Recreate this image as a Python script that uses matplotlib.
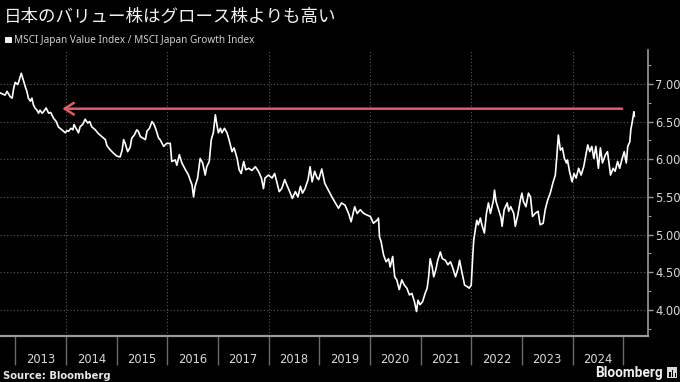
import matplotlib
matplotlib.use("Agg")
import matplotlib.pyplot as plt
from matplotlib.patches import Rectangle
from matplotlib.ticker import FixedLocator, FormatStrFormatter

# ---- data (decimal year, MSCI Japan Value / Growth ratio) ----
years = [
    2012.70, 2012.80, 2012.84, 2012.90, 2012.94, 2012.97, 2013.00, 2013.05, 2013.08, 2013.12,
    2013.16, 2013.20, 2013.23, 2013.26, 2013.30, 2013.33, 2013.36, 2013.39, 2013.43, 2013.46,
    2013.49, 2013.53, 2013.56, 2013.61, 2013.66, 2013.70, 2013.76, 2013.81, 2013.85, 2013.92,
    2013.99, 2014.02, 2014.05, 2014.10, 2014.14, 2014.16, 2014.20, 2014.25, 2014.28, 2014.33,
    2014.38, 2014.43, 2014.47, 2014.51, 2014.58, 2014.64, 2014.71, 2014.78, 2014.81, 2014.88,
    2014.94, 2015.01, 2015.07, 2015.11, 2015.14, 2015.17, 2015.22, 2015.27, 2015.30, 2015.35,
    2015.40, 2015.43, 2015.47, 2015.52, 2015.57, 2015.60, 2015.65, 2015.70, 2015.74, 2015.78,
    2015.83, 2015.86, 2015.93, 2015.99, 2016.06, 2016.09, 2016.16, 2016.19, 2016.24, 2016.29,
    2016.36, 2016.42, 2016.45, 2016.49, 2016.52, 2016.55, 2016.60, 2016.65, 2016.70, 2016.75,
    2016.78, 2016.83, 2016.87, 2016.91, 2016.95, 2016.98, 2017.01, 2017.05, 2017.08, 2017.13,
    2017.18, 2017.22, 2017.28, 2017.32, 2017.38, 2017.42, 2017.46, 2017.51, 2017.55, 2017.61,
    2017.67, 2017.74, 2017.80, 2017.86, 2017.90, 2017.93, 2018.00, 2018.07, 2018.12, 2018.17,
    2018.21, 2018.26, 2018.32, 2018.36, 2018.43, 2018.47, 2018.53, 2018.58, 2018.63, 2018.67,
    2018.72, 2018.78, 2018.82, 2018.86, 2018.91, 2018.96, 2018.99, 2019.05, 2019.11, 2019.18,
    2019.25, 2019.32, 2019.38, 2019.44, 2019.51, 2019.58, 2019.63, 2019.70, 2019.75, 2019.81,
    2019.88, 2019.94, 2020.01, 2020.07, 2020.14, 2020.17, 2020.19, 2020.22, 2020.27, 2020.32,
    2020.37, 2020.40, 2020.45, 2020.49, 2020.53, 2020.58, 2020.63, 2020.68, 2020.73, 2020.78,
    2020.83, 2020.88, 2020.92, 2020.95, 2020.99, 2021.04, 2021.09, 2021.13, 2021.16, 2021.19,
    2021.23, 2021.26, 2021.30, 2021.34, 2021.39, 2021.43, 2021.49, 2021.54, 2021.59, 2021.63,
    2021.69, 2021.74, 2021.77, 2021.82, 2021.87, 2021.92, 2021.96, 2022.00, 2022.03, 2022.05,
    2022.08, 2022.11, 2022.14, 2022.18, 2022.21, 2022.26, 2022.30, 2022.34, 2022.38, 2022.41,
    2022.44, 2022.46, 2022.49, 2022.54, 2022.59, 2022.61, 2022.65, 2022.71, 2022.74, 2022.78,
    2022.84, 2022.87, 2022.92, 2022.97, 2023.00, 2023.03, 2023.08, 2023.13, 2023.17, 2023.21,
    2023.26, 2023.32, 2023.36, 2023.42, 2023.46, 2023.51, 2023.56, 2023.61, 2023.66, 2023.69,
    2023.72, 2023.76, 2023.80, 2023.84, 2023.88, 2023.90, 2023.94, 2023.99, 2024.03, 2024.07,
    2024.12, 2024.17, 2024.22, 2024.25, 2024.30, 2024.34, 2024.38, 2024.42, 2024.46, 2024.51,
    2024.55, 2024.59, 2024.65, 2024.69, 2024.75, 2024.80, 2024.84, 2024.89, 2024.93, 2024.98,
    2025.02, 2025.06, 2025.09, 2025.13, 2025.15, 2025.18, 2025.21, 2025.22,
]
ratio = [
    6.88, 6.85, 6.90, 6.83, 6.81, 6.94, 7.02, 6.99, 7.05, 7.14,
    7.05, 6.96, 6.90, 6.81, 6.77, 6.81, 6.72, 6.68, 6.65, 6.61,
    6.65, 6.61, 6.63, 6.68, 6.61, 6.62, 6.54, 6.50, 6.43, 6.39,
    6.35, 6.38, 6.37, 6.41, 6.39, 6.46, 6.41, 6.35, 6.43, 6.46,
    6.53, 6.48, 6.50, 6.43, 6.39, 6.34, 6.30, 6.26, 6.18, 6.12,
    6.08, 6.04, 6.03, 6.12, 6.26, 6.21, 6.10, 6.16, 6.28, 6.32,
    6.39, 6.37, 6.30, 6.28, 6.26, 6.37, 6.41, 6.50, 6.46, 6.39,
    6.28, 6.26, 6.17, 6.21, 6.21, 5.97, 5.99, 5.92, 6.06, 5.95,
    5.86, 5.79, 5.73, 5.66, 5.50, 5.64, 5.75, 6.01, 5.95, 5.79,
    5.90, 5.97, 6.26, 6.35, 6.59, 6.46, 6.35, 6.41, 6.35, 6.41,
    6.35, 6.26, 6.10, 6.15, 6.01, 5.86, 5.81, 5.97, 5.86, 5.88,
    5.85, 5.90, 5.84, 5.75, 5.61, 5.75, 5.79, 5.75, 5.81, 5.68,
    5.57, 5.61, 5.73, 5.66, 5.55, 5.48, 5.57, 5.50, 5.64, 5.55,
    5.61, 5.73, 5.90, 5.70, 5.84, 5.75, 5.73, 5.87, 5.68, 5.59,
    5.50, 5.42, 5.35, 5.42, 5.39, 5.28, 5.17, 5.37, 5.28, 5.33,
    5.28, 5.26, 5.24, 5.15, 5.19, 5.22, 4.97, 4.91, 4.73, 4.64,
    4.68, 4.57, 4.71, 4.44, 4.40, 4.27, 4.40, 4.33, 4.29, 4.20,
    4.22, 4.11, 3.98, 4.13, 4.07, 4.11, 4.22, 4.29, 4.44, 4.68,
    4.57, 4.44, 4.53, 4.66, 4.77, 4.68, 4.66, 4.60, 4.64, 4.57,
    4.44, 4.55, 4.66, 4.49, 4.33, 4.31, 4.29, 4.33, 4.71, 4.93,
    5.06, 5.19, 5.13, 5.22, 5.13, 5.02, 5.28, 5.42, 5.28, 5.37,
    5.46, 5.59, 5.44, 5.33, 5.22, 5.11, 5.33, 5.42, 5.31, 5.37,
    5.28, 5.11, 5.26, 5.46, 5.55, 5.44, 5.37, 5.55, 5.50, 5.24,
    5.28, 5.31, 5.13, 5.15, 5.33, 5.46, 5.55, 5.68, 5.79, 6.04,
    6.32, 6.12, 6.15, 6.01, 5.95, 5.99, 5.84, 5.70, 5.81, 5.75,
    5.88, 5.79, 5.90, 6.01, 6.19, 6.10, 6.17, 6.01, 6.17, 5.88,
    6.15, 5.95, 6.06, 6.10, 5.79, 5.88, 5.84, 5.97, 5.88, 6.01,
    6.10, 5.95, 6.17, 6.23, 6.39, 6.50, 6.63, 6.57,
]

year_labels = ["2013", "2014", "2015", "2016", "2017", "2018",
               "2019", "2020", "2021", "2022", "2023", "2024"]
year_bounds = list(range(2013, 2026))
grid_years = [2014, 2016, 2018, 2020, 2022, 2024]
y_ticks = [4.0, 4.5, 5.0, 5.5, 6.0, 6.5, 7.0]
y_minor = [3.75, 4.25, 4.75, 5.25, 5.75, 6.25, 6.75, 7.25]

# annotation arrow (current level carried back to 2013)
arrow_level = 6.67
arrow_from = 2024.98
arrow_to = 2013.93

title = "日本のバリュー株はグロース株よりも高い"
subtitle = "MSCI Japan Value Index / MSCI Japan Growth Index"
source = "Source: Bloomberg"

BG = "#000000"
TXT = "#d9d9d9"

fig = plt.figure(figsize=(6.8, 3.82), dpi=100, facecolor=BG)
ax = fig.add_axes([0.0, 0.1204, 0.953, 0.749])
ax.set_facecolor(BG)

ax.plot(years, ratio, color="white", lw=1.2, solid_joinstyle="round", zorder=3)

ax.annotate("", xy=(arrow_to, arrow_level), xytext=(arrow_from, arrow_level),
            arrowprops=dict(arrowstyle="->,head_length=0.55,head_width=0.35",
                            color="#e25b68", lw=1.8, mutation_scale=12,
                            shrinkA=0, shrinkB=0), zorder=4)

ax.set_xlim(2012.70, 2025.49)
ax.set_ylim(3.655, 7.45)

# grid
for gy in y_ticks:
    ax.axhline(gy, color="#5a5a5a", lw=0.8, ls=(0, (1, 2)), zorder=1)
for gx in grid_years:
    ax.axvline(gx, color="#5a5a5a", lw=0.8, ls=(0, (1, 2)), zorder=1)

# spines
for s in ["top", "left"]:
    ax.spines[s].set_visible(False)
ax.spines["bottom"].set_color("#9a9a9a")
ax.spines["bottom"].set_linewidth(1.6)
ax.spines["right"].set_color("#9a9a9a")
ax.spines["right"].set_linewidth(1.2)

# y axis on right
ax.yaxis.tick_right()
ax.yaxis.set_major_locator(FixedLocator(y_ticks))
ax.yaxis.set_minor_locator(FixedLocator(y_minor))
ax.yaxis.set_major_formatter(FormatStrFormatter("%.2f"))
ax.tick_params(axis="y", which="major", colors="#9a9a9a", labelcolor=TXT,
               length=3.5, width=1, pad=1.5, labelsize=8.3)
ax.tick_params(axis="y", which="minor", colors="#9a9a9a", length=2, width=0.8)

# x axis: separators at year boundaries, labels centered
ax.xaxis.set_major_locator(FixedLocator(year_bounds))
ax.xaxis.set_major_formatter(plt.NullFormatter())
ax.xaxis.set_minor_locator(FixedLocator([y + 0.5 for y in year_bounds[:-1]]))
ax.set_xticklabels(year_labels, minor=True)
ax.tick_params(axis="x", which="major", colors="#6a6a6a", length=21, width=1)
ax.tick_params(axis="x", which="minor", length=0, pad=12.5, labelcolor=TXT, labelsize=8.3)

# texts
fig.text(0.006, 0.955, title, color="#f2f2f2", fontsize=12.6,
         family=["Noto Sans CJK JP", "DejaVu Sans"], va="center", ha="left")
fig.add_artist(Rectangle((0.008, 0.887), 0.0095, 0.017, transform=fig.transFigure,
                         color="#f0f0f0", lw=0))
fig.text(0.021, 0.895, subtitle, color="#cfcfcf", fontsize=7.2,
         family=["Noto Sans", "DejaVu Sans"], va="center", ha="left")
fig.text(0.004, 0.016, source, color="#e6e6e6", fontsize=7.2, fontweight="bold",
         family=["DejaVu Sans"], va="center", ha="left")
fig.text(0.974, 0.024, "Bloomberg", color="#f0f0f0", fontsize=9.8, fontweight="semibold",
         family=["Roboto", "DejaVu Sans"], va="center", ha="right")
# small logo box
fig.add_artist(Rectangle((0.981, 0.010), 0.015, 0.028, transform=fig.transFigure,
                         color="#d8d8d8", lw=0))
for bx, bh in [(0.984, 0.012), (0.988, 0.018), (0.992, 0.009)]:
    fig.add_artist(Rectangle((bx, 0.014), 0.0022, bh, transform=fig.transFigure,
                             color="#000000", lw=0))

fig.savefig("out.png", dpi=100, facecolor=BG)
